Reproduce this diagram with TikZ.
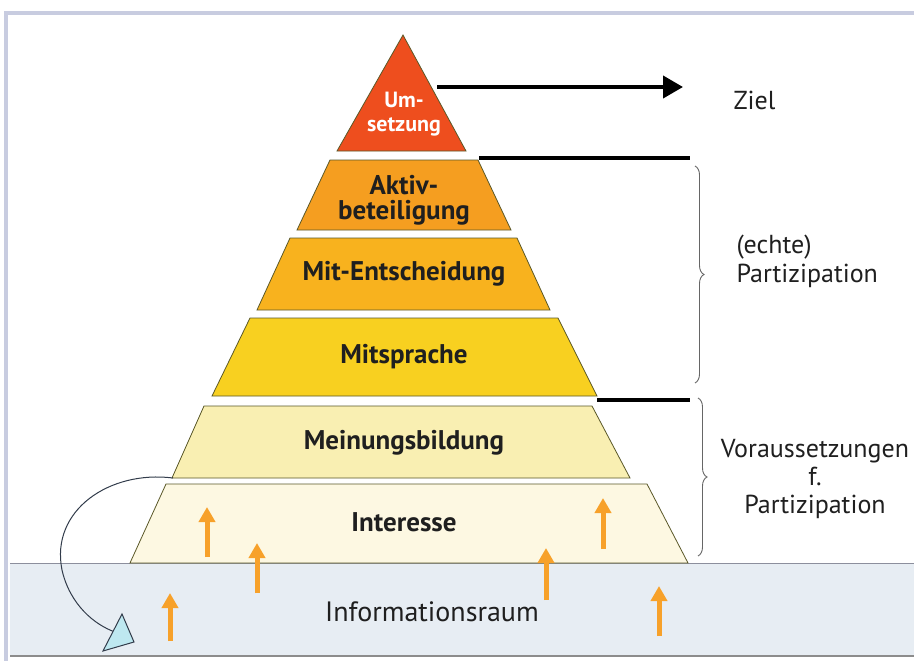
\documentclass[tikz,border=0pt]{standalone}
\usepackage{fontspec}
\setmainfont{PT Sans}
\usetikzlibrary{arrows.meta,decorations.pathreplacing}
\definecolor{cUms}{RGB}{238,78,30}
\definecolor{cAkt}{RGB}{245,158,32}
\definecolor{cMit}{RGB}{248,178,30}
\definecolor{cSpr}{RGB}{248,208,32}
\definecolor{cMei}{RGB}{249,239,178}
\definecolor{cInt}{RGB}{253,248,226}
\definecolor{cInfo}{RGB}{231,237,243}
\definecolor{cEdge}{RGB}{90,88,40}
\definecolor{cArr}{RGB}{247,161,42}
\definecolor{cFrame}{RGB}{200,204,224}
\definecolor{cHead}{RGB}{190,232,240}
\definecolor{cCurve}{RGB}{50,60,75}
\tikzset{
  layer/.style={draw=cEdge,line width=0.8pt},
  ltext/.style={font=\fontsize{27}{25}\selectfont\bfseries,text=black!88,align=center},
  umstext/.style={font=\fontsize{22}{24}\selectfont\bfseries,text=white,align=center},
  rtext/.style={font=\fontsize{26}{29}\selectfont,text=black!88},
  uparr/.style={draw=cArr,line width=5pt,-{Triangle[length=15pt,width=16pt]}},
  bar/.style={line width=4pt,draw=black},
  brc/.style={draw=black!60,line width=0.9pt,decorate,decoration={brace,amplitude=9pt}}
}
\begin{document}
\begin{tikzpicture}[x=1pt,y=-1pt]
\useasboundingbox (0,0) rectangle (914,661);
\fill[white] (0,0) rectangle (914,661);
% information band
\fill[cInfo] (10,563) rectangle (914,656);
\draw[draw=cFrame!70!black,line width=1pt] (10,563) -- (914,563);
\draw[draw=black!45,line width=1.5pt] (10,656) -- (914,656);
% frame
\draw[draw=cFrame,line width=4pt] (6,661) -- (6,13) -- (914,13);
% layers
\fill[cUms,layer] (403,35) -- (466,151) -- (337,151) -- cycle;
\fill[cAkt,layer] (330,160) -- (478,160) -- (511,230) -- (297,230) -- cycle;
\fill[cMit,layer] (290,238) -- (517,238) -- (550,310) -- (257,310) -- cycle;
\fill[cSpr,layer] (250,318) -- (558,318) -- (597,396) -- (212,396) -- cycle;
\fill[cMei,layer] (204,406) -- (592,406) -- (630,478) -- (172,478) -- cycle;
\fill[cInt,layer] (166,484) -- (647,484) -- (688,563) -- (130,563) -- cycle;
\node[umstext] (ums) at (404,114) {Um-\\setzung};
\node[ltext] (akt) at (404,200) {Aktiv-\\beteiligung};
\node[ltext] (mit) at (404,274) {Mit-Entscheidung};
\node[ltext] (spr) at (404,357) {Mitsprache};
\node[ltext] (mei) at (404,443) {Meinungsbildung};
\node[ltext] (int) at (404,522) {Interesse};
\node[rtext,font=\fontsize{28}{30}\selectfont] (info) at (432,612) {Informationsraum};
% goal arrow
\coordinate (zs) at (437,87);
\coordinate (ze) at (683,87);
\draw[bar,-{Triangle[length=20pt,width=22pt]}] (zs) -- (ze);
\node[rtext,anchor=west] (ziel) at (730,100) {Ziel};
% separator bars
\coordinate (b1s) at (479,158); \coordinate (b1e) at (690,158);
\coordinate (b2s) at (597,400); \coordinate (b2e) at (690,400);
\draw[bar] (b1s) -- (b1e);
\draw[bar] (b2s) -- (b2e);
% braces
\coordinate (p1t) at (695,166); \coordinate (p1b) at (695,383);
\coordinate (p2t) at (698,398); \coordinate (p2b) at (698,556);
\draw[brc] (p1t) -- (p1b);
\draw[brc] (p2t) -- (p2b);
\node[rtext,anchor=west,align=left] (echt) at (733,261) {(echte)\\Partizipation};
\node[rtext,align=center,font=\fontsize{26}{28}\selectfont] (vor) at (815,479) {Voraussetzungen\\f.\\Partizipation};
% orange arrows
\coordinate (a1s) at (207,557); \coordinate (a1e) at (207,507);
\coordinate (a2s) at (257,593); \coordinate (a2e) at (257,543);
\coordinate (a3s) at (170,641); \coordinate (a3e) at (170,593);
\coordinate (a4s) at (546,600); \coordinate (a4e) at (546,548);
\coordinate (a5s) at (603,549); \coordinate (a5e) at (603,498);
\coordinate (a6s) at (659,636); \coordinate (a6e) at (659,586);
\foreach \i in {1,...,6} {\draw[uparr] (a\i s) -- (a\i e);}
% curved return arrow
\coordinate (cs) at (173,478);
\coordinate (ce) at (115,632);
\draw[cCurve,line width=1pt] (cs) .. controls (110,470) and (50,510) .. (62,570) .. controls (70,605) and (95,625) .. (ce);
\filldraw[fill=cHead,draw=cCurve,line width=1pt] (122,614) -- (134,642) -- (103,651) -- cycle;
\end{tikzpicture}
\end{document}
